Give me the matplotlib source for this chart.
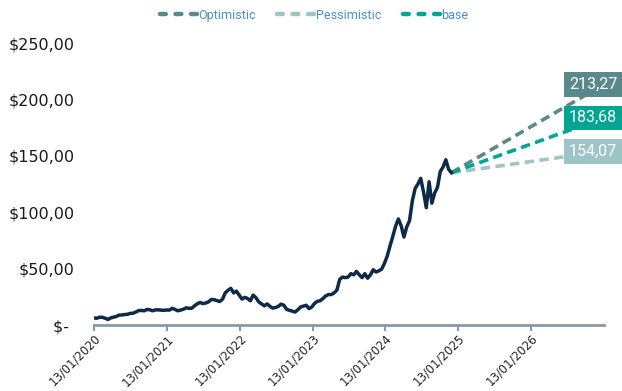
import matplotlib
matplotlib.use("Agg")
import matplotlib.pyplot as plt
import matplotlib.transforms as mtransforms
from matplotlib.lines import Line2D
from matplotlib import font_manager
import pandas as pd

# ---------------- data ----------------
start_date = "2020-01-13"
prices = [
    # 2020
    6.2, 6.0, 6.9, 6.8, 6.0, 4.9, 6.3, 7.0, 7.6, 8.8, 8.9, 9.3, 9.5,
    10.3, 10.4, 11.5, 12.8, 12.9, 12.6, 13.8, 13.5, 12.6, 13.4, 13.4, 13.2, 13.0,
    # 2021
    13.3, 13.2, 14.8, 13.8, 12.6, 13.2, 14.0, 15.2, 14.8, 14.9, 17.0, 18.8, 20.0,
    19.0, 19.5, 20.5, 22.6, 22.5, 21.6, 20.8, 22.8, 28.5, 30.8, 32.5, 28.5, 30.0,
    # 2022
    26.5, 23.0, 24.5, 23.5, 21.5, 26.5, 24.2, 20.5, 18.8, 17.0, 18.7, 16.5, 15.0,
    15.5, 16.5, 18.5, 17.5, 13.8, 13.0, 12.2, 11.5, 13.5, 16.0, 16.8, 17.5, 14.5,
    # 2023
    16.0, 19.2, 21.0, 21.5, 23.5, 25.8, 27.0, 27.0, 28.5, 31.0, 40.5, 42.5, 42.0,
    42.5, 45.5, 44.5, 47.5, 44.5, 42.0, 45.5, 41.5, 44.5, 49.0, 47.0, 48.0, 49.5,
    # 2024
    54.5, 61.0, 70.0, 78.5, 87.5, 94.0, 88.0, 78.0, 87.0, 92.5, 110.0, 121.0, 125.0,
    130.0, 118.0, 104.0, 127.0, 108.0, 117.0, 122.0, 136.0, 140.0, 146.5, 138.0, 135.0,
]
scenario_names = ["Optimistic", "Pessimistic", "base"]
scenario_end_values = [213.27, 154.07, 183.68]
scenario_end_labels = ["213,27", "154,07", "183,68"]
projection_end_date = "2027-01-13"
tick_dates = ["2020-01-13", "2021-01-13", "2022-01-13", "2023-01-13",
              "2024-01-13", "2025-01-13", "2026-01-13"]
tick_labels = ["13/01/2020", "13/01/2021", "13/01/2022", "13/01/2023",
               "13/01/2024", "13/01/2025", "13/01/2026"]
y_ticks = [0, 50, 100, 150, 200, 250]
y_tick_labels = ["$- ", "$50,00", "$100,00", "$150,00", "$200,00", "$250,00"]

# ---------------- style ----------------
main_color = "#0f2a47"
scenario_colors = ["#5a898b", "#9dc4c7", "#00a693"]
axis_color = "#8b98a3"
legend_text_color = "#4a8fcb"

available = {f.name for f in font_manager.fontManager.ttflist}
box_font = "Liberation Sans Narrow" if "Liberation Sans Narrow" in available else "Roboto"

dates = pd.date_range(start_date, periods=len(prices), freq="14D")

fig = plt.figure(figsize=(6.22, 3.91), dpi=100)
ax = fig.add_axes([94 / 622, 66 / 391, 510 / 622, 282 / 391])

ax.plot(dates, prices, color=main_color, lw=2.5, zorder=3, solid_joinstyle="round")

last_date = dates[-1]
last_val = prices[-1]
end_date = pd.Timestamp(projection_end_date)
for name, val, col in zip(scenario_names, scenario_end_values, scenario_colors):
    ax.plot([last_date, end_date], [last_val, val], color=col, lw=2.6,
            linestyle=(0, (2.6, 1.5)), dash_capstyle="butt", zorder=2)

# value boxes
trans = mtransforms.blended_transform_factory(ax.transAxes, ax.transData)
for val, lab, col in zip(scenario_end_values, scenario_end_labels, scenario_colors):
    ax.text(1.026, val, lab, transform=trans, ha="right", va="center",
            color="white", fontsize=11.5, family=box_font, zorder=5, clip_on=False,
            bbox=dict(boxstyle="square,pad=0.3", facecolor=col, edgecolor="none"))

ax.set_xlim(pd.Timestamp(start_date), end_date)
ax.set_ylim(0, 250)

ax.set_xticks([pd.Timestamp(d) for d in tick_dates])
ax.set_xticklabels(tick_labels, rotation=45, ha="right", rotation_mode="anchor",
                   fontsize=8.4, color="#222222")
ax.set_yticks(y_ticks)
ax.set_yticklabels(y_tick_labels, fontsize=11.5, color="#1a1a1a")
ax.tick_params(axis="y", length=0, pad=14)
ax.tick_params(axis="x", length=4, width=1.5, color=axis_color, pad=1)

for s in ["top", "right", "left"]:
    ax.spines[s].set_visible(False)
ax.spines["bottom"].set_color(axis_color)
ax.spines["bottom"].set_linewidth(2)

handles = [Line2D([], [], color=c, lw=3.2, linestyle=(0, (1.3, 2.2)),
                  dash_capstyle="round") for c in scenario_colors]
leg = fig.legend(handles, scenario_names, loc="center", bbox_to_anchor=(0.505, 0.961),
                 ncol=3, frameon=False, handlelength=3.1, handletextpad=0.0,
                 columnspacing=1.7, prop={"family": "Roboto", "size": 9})
for t in leg.get_texts():
    t.set_color(legend_text_color)

fig.savefig("out.png", dpi=100)
